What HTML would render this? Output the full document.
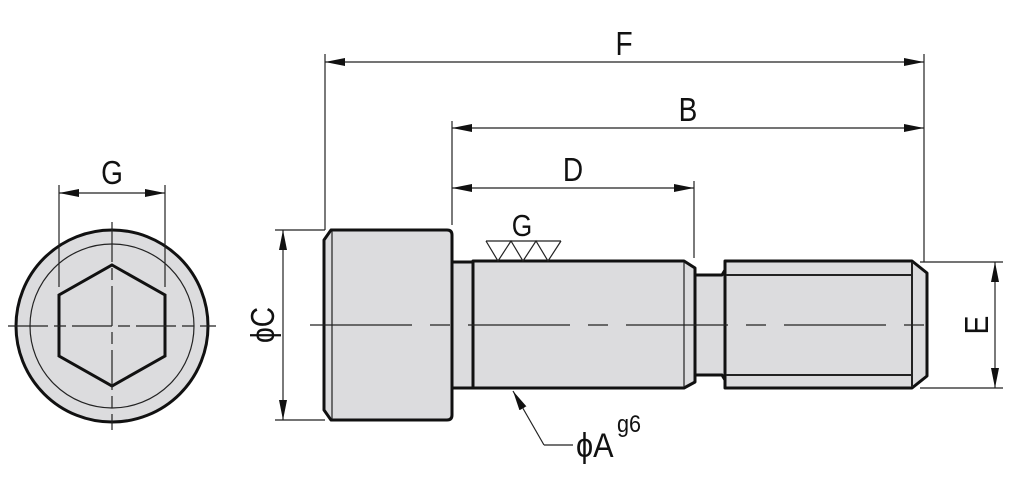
<!DOCTYPE html>
<html><head><meta charset="utf-8"><style>html,body{margin:0;padding:0;background:#fff}svg{display:block}</style></head>
<body>
<svg width="1019" height="482" viewBox="0 0 1019 482" xmlns="http://www.w3.org/2000/svg" font-family="Liberation Sans, DejaVu Sans, sans-serif">
<defs>
<marker id="a" viewBox="0 0 20 8" refX="20" refY="4" markerWidth="20" markerHeight="8" markerUnits="userSpaceOnUse" orient="auto-start-reverse"><path d="M0,0L20,4L0,8z" fill="#111"/></marker>
</defs>
<g stroke="#222" stroke-width="1.2" fill="none">
<circle cx="112" cy="326" r="96" fill="#dcdcde" stroke="#111" stroke-width="3"/>
<circle cx="112" cy="326" r="82"/>
<polygon points="112,265 165,295 165,356 112,386 59,356 59,295" stroke="#111" stroke-width="3"/>
<line x1="8" y1="326" x2="216" y2="326" stroke-dasharray="40,6,12,6"/>
<line x1="112" y1="222" x2="112" y2="430" stroke-dasharray="40,6,12,6"/>
<line x1="59" y1="185" x2="59" y2="287"/>
<line x1="165" y1="185" x2="165" y2="287"/>
<line x1="59" y1="193" x2="165" y2="193" marker-start="url(#a)" marker-end="url(#a)"/>
<g fill="#dcdcde" stroke="#111" stroke-width="3" stroke-linejoin="round">
<path d="M452,262 H473 V388 H452 Z"/>
<path d="M324,240 L331,230 H447 Q452,230 452,235 V415 Q452,420 447,420 H331 L324,410 Z"/>
<path d="M473,261 H684 L695,268 V382 L684,388 H473 Z"/>
<path d="M695,275 H722 L725,270 V380 L722,375 H695 Z"/>
<path d="M725,261 H912 L927,273 V376 L912,388 H725 Z"/>
</g>
<line x1="332" y1="231" x2="332" y2="419"/>
<line x1="684" y1="262" x2="684" y2="387"/>
<line x1="912" y1="262" x2="912" y2="387" stroke-width="2"/>
<line x1="726" y1="275" x2="912" y2="275" stroke-width="2"/>
<line x1="726" y1="375" x2="912" y2="375" stroke-width="2"/>
<line x1="310" y1="325" x2="935" y2="325" stroke-dasharray="102,18,20,18"/>
<path d="M486,241 H561 M486,241 L498,261 L511,241 L523,261 L536,241 L548,261 L561,241"/>
<line x1="325" y1="54" x2="325" y2="230"/>
<line x1="452" y1="121" x2="452" y2="225"/>
<line x1="924" y1="54" x2="924" y2="262"/>
<line x1="694" y1="181" x2="694" y2="258"/>
<line x1="325" y1="62" x2="924" y2="62" marker-start="url(#a)" marker-end="url(#a)"/>
<line x1="452" y1="128" x2="924" y2="128" marker-start="url(#a)" marker-end="url(#a)"/>
<line x1="452" y1="188" x2="694" y2="188" marker-start="url(#a)" marker-end="url(#a)"/>
<line x1="275" y1="230" x2="325" y2="230"/>
<line x1="275" y1="420" x2="325" y2="420"/>
<line x1="283" y1="230" x2="283" y2="420" marker-start="url(#a)" marker-end="url(#a)"/>
<line x1="920" y1="262" x2="1003" y2="262"/>
<line x1="920" y1="388" x2="1003" y2="388"/>
<line x1="995" y1="262" x2="995" y2="388" marker-start="url(#a)" marker-end="url(#a)"/>
<polyline points="544,445 513,391" marker-end="url(#a)"/>
<line x1="544" y1="445" x2="573" y2="445"/>
</g>
<g fill="#111" font-size="33">
<text transform="translate(112,184) scale(0.85,1)" text-anchor="middle">G</text>
<text transform="translate(624,55) scale(0.85,1)" text-anchor="middle">F</text>
<text transform="translate(688,121) scale(0.85,1)" text-anchor="middle">B</text>
<text transform="translate(573,181) scale(0.85,1)" text-anchor="middle">D</text>
<text transform="translate(522,236) scale(0.85,1)" text-anchor="middle" font-size="31">G</text>
<text transform="translate(274,325) rotate(-90) scale(0.85,1)" text-anchor="middle">ϕC</text>
<text transform="translate(988,325) rotate(-90) scale(0.85,1)" text-anchor="middle">E</text>
<text transform="translate(576,457) scale(0.9,1)" font-size="34">ϕA</text>
<text transform="translate(617,432) scale(0.9,1)" font-size="24">g6</text>
</g>
</svg>
</body></html>
